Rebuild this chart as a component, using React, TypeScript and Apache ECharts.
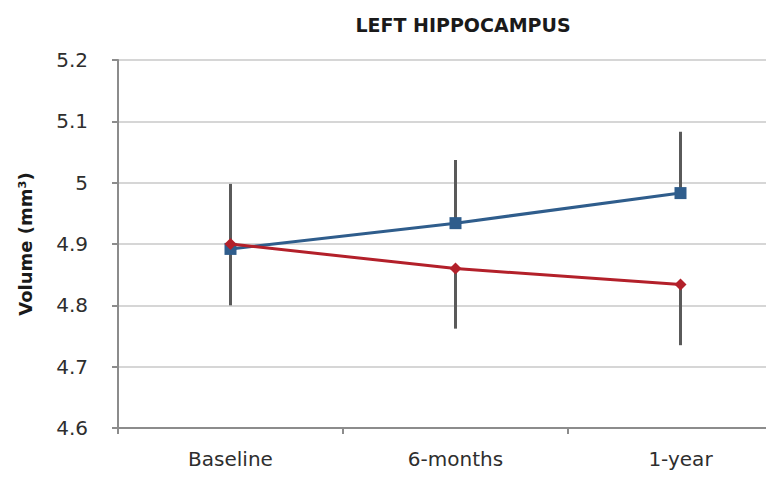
import React, { useEffect, useRef } from "react";
import * as echarts from "echarts";

const categories = ["Baseline", "6-months", "1-year"];
const blueValues = [4.892, 4.934, 4.983];
const redValues = [4.9, 4.86, 4.834];
const blueUpper = [4.998, 5.037, 5.083];
const redLower = [4.8, 4.762, 4.735];
const yTicks = [4.6, 4.7, 4.8, 4.9, 5.0, 5.1, 5.2];

const FONT = "DejaVu Sans";

export default function App() {
  const ref = useRef<HTMLDivElement>(null);
  useEffect(() => {
    if (!ref.current) return;
    const chart = echarts.init(ref.current, null, { renderer: "svg" });
    const errData = categories.map((_, i) => [i, blueValues[i], blueUpper[i], redValues[i], redLower[i]]);
    chart.setOption({
      animation: false,
      backgroundColor: "#ffffff",
      title: {
        text: "LEFT HIPPOCAMPUS",
        left: 458,
        textAlign: "center",
        top: 10,
        textStyle: { fontFamily: FONT, fontWeight: "bold", fontSize: 19, color: "#1a1a1a" },
      },
      grid: { left: 118, right: 2, top: 60, bottom: 61 },
      xAxis: {
        type: "category",
        data: categories,
        boundaryGap: true,
        axisLine: { lineStyle: { color: "#8c8c8c", width: 2 } },
        axisTick: { show: true, length: 6, lineStyle: { color: "#8c8c8c", width: 2 } },
        axisLabel: { fontFamily: FONT, fontSize: 20, color: "#2e2e2e", margin: 21 },
        splitLine: { show: false },
      },
      yAxis: {
        type: "value",
        min: 4.6,
        max: 5.2,
        interval: 0.1,
        name: "Volume (mm³)",
        nameLocation: "middle",
        nameGap: 84,
        nameTextStyle: { fontFamily: FONT, fontWeight: "bold", fontSize: 18, color: "#1a1a1a" },
        axisLine: { show: true, lineStyle: { color: "#8c8c8c", width: 2 } },
        axisTick: { show: true, length: 6, lineStyle: { color: "#8c8c8c", width: 2 } },
        axisLabel: {
          fontFamily: FONT,
          fontSize: 20,
          color: "#2e2e2e",
          margin: 30,
          formatter: (v: number) => {
            const r = Math.round(v * 10) / 10;
            return yTicks.includes(r) ? String(r) : "";
          },
        },
        splitLine: { lineStyle: { color: "#d6d6d6", width: 2 } },
      },
      series: [
        {
          type: "custom",
          z: 1,
          data: errData,
          renderItem: (params: any, api: any) => {
            const x = api.value(0);
            const b1 = api.coord([x, api.value(1)]);
            const b2 = api.coord([x, api.value(2)]);
            const r1 = api.coord([x, api.value(3)]);
            const r2 = api.coord([x, api.value(4)]);
            const st = { stroke: "#5a5a5a", lineWidth: 3 };
            return {
              type: "group",
              children: [
                { type: "line", shape: { x1: b1[0], y1: b1[1], x2: b2[0], y2: b2[1] }, style: st },
                { type: "line", shape: { x1: r1[0], y1: r1[1], x2: r2[0], y2: r2[1] }, style: st },
              ],
            };
          },
        },
        {
          type: "line",
          z: 3,
          data: blueValues,
          symbol: "rect",
          symbolSize: 12,
          lineStyle: { color: "#2f5d8c", width: 3 },
          itemStyle: { color: "#2f5d8c" },
        },
        {
          type: "line",
          z: 4,
          data: redValues,
          symbol: "diamond",
          symbolSize: 12,
          lineStyle: { color: "#b3202a", width: 3 },
          itemStyle: { color: "#b3202a" },
        },
      ],
    });
    return () => chart.dispose();
  }, []);
  return (
    <div style={{ position: "absolute", left: 0, top: 0, width: 766, height: 489, overflow: "hidden" }}>
      <div ref={ref} style={{ width: 795, height: 489 }} />
    </div>
  );
}
